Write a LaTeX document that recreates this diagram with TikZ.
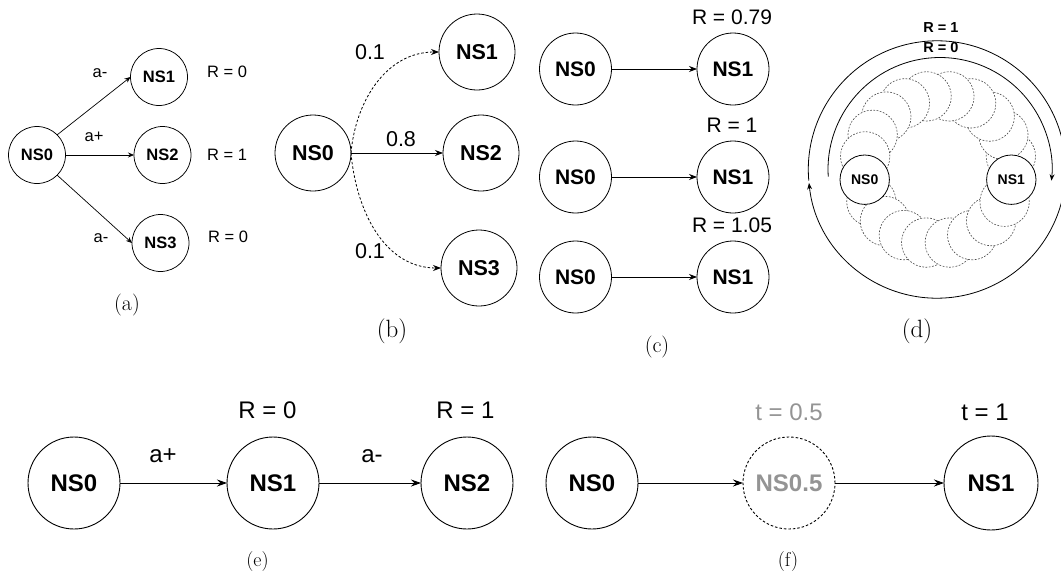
\documentclass[tikz,border=0pt]{standalone}
\usepackage{fontspec}
\setsansfont{Liberation Sans}
\usetikzlibrary{arrows.meta,calc}
\newcommand{\fsz}[1]{\fontsize{#1}{#1}\selectfont}
\begin{document}
\begin{tikzpicture}[x=1pt,y=-1pt,
  every node/.style={inner sep=0pt,outer sep=0pt},
  stA/.style={circle,draw,fill=white,line width=0.75pt,minimum size=57pt,font=\sffamily\bfseries\fsz{16.5}},
  stB/.style={circle,draw,fill=white,line width=0.8pt,minimum size=76pt,font=\sffamily\bfseries\fsz{21.5}},
  stC/.style={circle,draw,fill=white,line width=0.8pt,minimum size=72pt,font=\sffamily\bfseries\fsz{21}},
  stD/.style={circle,draw,fill=white,line width=0.8pt,minimum size=49.4pt,font=\sffamily\bfseries\fsz{14}},
  stE/.style={circle,draw,fill=white,line width=0.9pt,minimum size=92pt,font=\sffamily\bfseries\fsz{24}},
  ghost/.style={circle,draw=black!70,fill=white,dash pattern=on 1.8pt off 1.5pt,line width=0.6pt,minimum size=49.4pt},
  lbA/.style={font=\sffamily\fsz{16.5}},
  lbB/.style={font=\sffamily\fsz{21.5}},
  lbC/.style={font=\sffamily\fsz{21}},
  lbD/.style={font=\sffamily\bfseries\fsz{14.5}},
  lbE/.style={font=\sffamily\fsz{24}},
  capt/.style={font=\rmfamily\fsz{#1}},
  arA/.style={-{Stealth[length=6pt,width=5pt]},line width=0.7pt},
  arB/.style={-{Stealth[length=8pt,width=6pt]},line width=0.8pt},
  arD/.style={-{Stealth[length=6.5pt,width=5pt]},line width=0.8pt},
  arE/.style={-{Stealth[length=10pt,width=7pt]},line width=0.9pt},
  dsh/.style={dash pattern=on 2.5pt off 2pt}
]
\useasboundingbox (0,0) rectangle (1061,581);

% ---------- (a) ----------
\node[stA] (a0) at (37,155) {NS0};
\node[stA] (a1) at (159,77) {NS1};
\node[stA] (a2) at (162.5,155) {NS2};
\node[stA] (a3) at (160.5,243) {NS3};
\draw[arA] (a0.45) -- (a1.west);
\draw[arA] (a0.east) -- (a2.west);
\draw[arA] (a0.-45) -- (a3.west);
\node[lbA] (la1) at (100,73) {a-};
\node[lbA] (la2) at (94,137) {a+};
\node[lbA] (la3) at (101,238) {a-};
\node[lbA] (ra1) at (227,72) {R = 0};
\node[lbA] (ra2) at (227,155) {R = 1};
\node[lbA] (ra3) at (228,237) {R = 0};
\node[capt=22] (ca) at (127,305) {(a)};

% ---------- (b) ----------
\node[stB] (b0) at (313,153) {NS0};
\node[stB] (b1) at (477,52) {NS1};
\node[stB] (b2) at (481,153) {NS2};
\node[stB] (b3) at (479,268) {NS3};
\draw[arB,dsh] (b0.east) to[out=85,in=180] (b1.west);
\draw[arB] (b0.east) -- (b2.west);
\draw[arB,dsh] (b0.east) to[out=-85,in=180] (b3.west);
\node[lbB] (lb1) at (370,52) {0.1};
\node[lbB] (lb2) at (401,139) {0.8};
\node[lbB] (lb3) at (370,251) {0.1};
\node[capt=25] (cb) at (392,331) {(b)};

% ---------- (c) ----------
\foreach \r/\y/\t in {0/69/0.79,1/177/1,2/277/1.05}{
  \node[stC] (c\r0) at (575.5,\y) {NS0};
  \node[stC] (c\r1) at (733,\y) {NS1};
  \draw[arB] (c\r0.east) -- (c\r1.west);
  \node[lbC] (rc\r) at (732,\y-52) {R = \t};
}
\node[capt=22] (cc) at (657,347.5) {(c)};

% ---------- (d) ----------
\coordinate (ring) at (938,169.5);
\coordinate (oc) at (937,169.5);
\coordinate (ic) at (940,169.5);
\draw[arD] ($(oc)+(545:128.7pt)$) arc[start angle=545,end angle=186,radius=128.7pt];
\draw[arD] ($(ic)+(183.7:112pt)$) arc[start angle=183.7,end angle=-5.7,radius=112pt];
\foreach \k in {1,...,8}{
  \node[ghost] (gb\k) at ($(ring)+({187.5+\k*18.333}:74pt)$) {};
}
\foreach \k in {1,...,10}{
  \node[ghost] (gt\k) at ($(ring)+({352.5+\k*17.727}:74pt)$) {};
}
\node[stD] (d0) at (864.7,179.7) {NS0};
\node[stD] (d1) at (1011.3,179.7) {NS1};
\node[lbD] (rd1) at (941,27.5) {R = 1};
\node[lbD] (rd0) at (941,47.7) {R = 0};
\node[capt=25] (cd) at (917,331) {(d)};

% ---------- (e) ----------
\node[stE] (e0) at (74,483) {NS0};
\node[stE] (e1) at (273,483) {NS1};
\node[stE] (e2) at (467,483) {NS2};
\draw[arE] (e0) -- (e1);
\draw[arE] (e1) -- (e2);
\node[lbE] (le1) at (163,456) {a+};
\node[lbE] (le2) at (372,456) {a-};
\node[lbE] (re1) at (267.5,410) {R = 0};
\node[lbE] (re2) at (465.5,410) {R = 1};
\node[capt=20] (ce) at (257.5,562) {(e)};

% ---------- (f) ----------
\node[stE] (f0) at (592,483) {NS0};
\node[stE,dsh,text=black!42] (f05) at (789,483) {NS0.5};
\node[stE,minimum size=94pt] (f1) at (991,483) {NS1};
\draw[arE] (f0) -- (f05);
\draw[arE] (f05) -- (f1);
\node[lbE,text=black!42] (tf1) at (789,412) {t = 0.5};
\node[lbE] (tf2) at (985,412) {t = 1};
\node[capt=20] (cf) at (788,562) {(f)};
\end{tikzpicture}
\end{document}
